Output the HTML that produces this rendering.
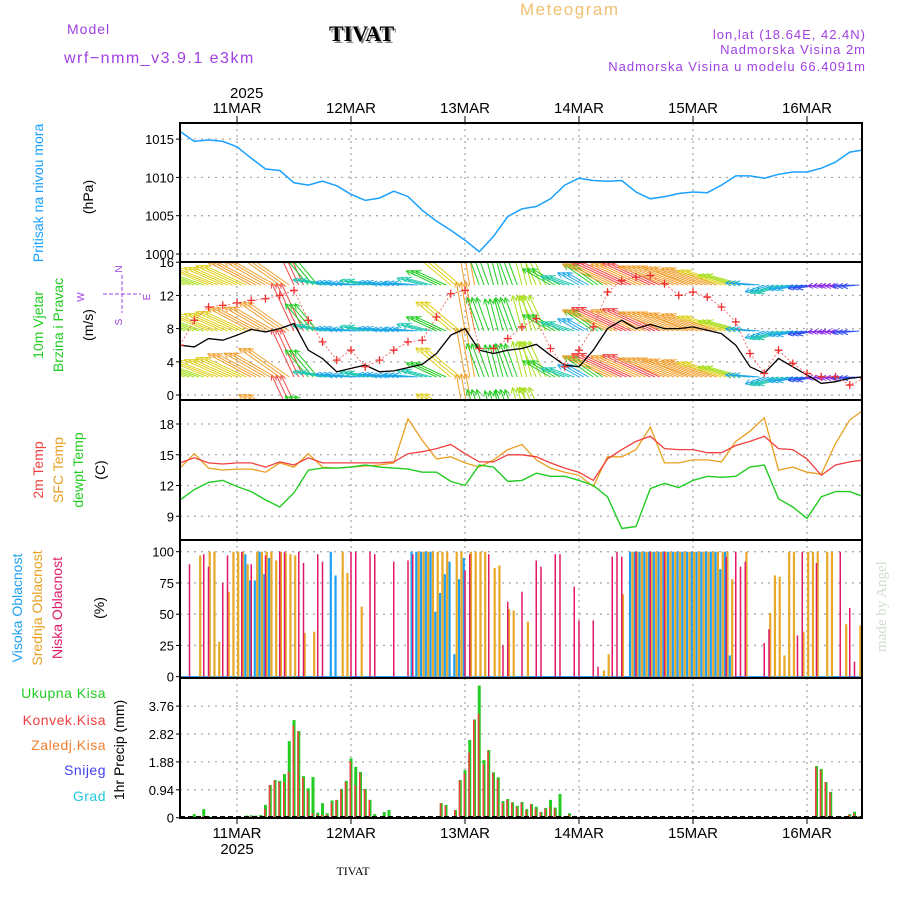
<!DOCTYPE html>
<html><head><meta charset="utf-8"><style>
body{margin:0;background:#fff;}
svg{display:block;font-family:"Liberation Sans",sans-serif;}
</style></head><body>
<svg id="c" width="900" height="900" viewBox="0 0 900 900">
<text x="67" y="34" font-size="14" fill="#a040e0" letter-spacing="1">Model</text>
<text x="64" y="63" font-size="16" fill="#a040e0" letter-spacing="1.5">wrf−nmm_v3.9.1 e3km</text>
<text x="331" y="43" font-size="22" font-weight="bold" font-family="Liberation Serif,serif" fill="#888">TIVAT</text>
<text x="329" y="41" font-size="22" font-weight="bold" font-family="Liberation Serif,serif" fill="#000">TIVAT</text>
<text x="520" y="15" font-size="17" fill="#f0c070" letter-spacing="1.5">Meteogram</text>
<text x="866" y="39" font-size="13" fill="#a040e0" text-anchor="end" letter-spacing="1">lon,lat (18.64E, 42.4N)</text>
<text x="866" y="54" font-size="13" fill="#a040e0" text-anchor="end" letter-spacing="1">Nadmorska Visina 2m</text>
<text x="866" y="71" font-size="13" fill="#a040e0" text-anchor="end" letter-spacing="1">Nadmorska Visina u modelu 66.4091m</text>
<text x="230" y="98" font-size="15" fill="#000">2025</text>
<text x="353" y="875" font-size="12" font-family="Liberation Serif,serif" fill="#000" text-anchor="middle">TIVAT</text>
<text transform="translate(886,652) rotate(-90)" font-size="15" font-family="Liberation Serif,serif" fill="#cfe0cf">made by Angel</text>
<g id="g"></g>
</svg>
<script>
// ---- data (3-hourly from 10MAR 12Z) ----
const dayLabels=["11MAR","12MAR","13MAR","14MAR","15MAR","16MAR"];
const pres=[1016.0,1014.7,1014.9,1014.7,1014.0,1012.5,1011.1,1010.9,1009.3,1009.0,1009.5,1008.9,1007.8,1007.0,1007.3,1008.2,1007.5,1005.7,1004.3,1003.1,1001.8,1000.3,1002.3,1004.9,1005.9,1006.2,1007.2,1009.0,1009.9,1009.6,1009.5,1009.6,1008.1,1007.2,1007.5,1007.9,1008.1,1008.0,1009.0,1010.2,1010.2,1009.9,1010.4,1010.7,1010.7,1011.2,1012.0,1013.3,1013.6];
const spd=[6.0,5.8,6.8,6.6,7.2,7.9,7.6,8.0,8.6,5.4,4.4,2.8,3.2,3.6,2.8,2.9,3.3,3.7,5.0,7.2,8.0,5.4,5.0,5.4,5.6,6.1,4.8,3.6,3.4,5.4,8.0,9.0,8.0,8.5,8.0,8.0,8.2,7.8,7.4,6.0,3.4,2.6,4.4,3.4,2.4,1.4,1.6,2.0,2.2];
const gust=[6.0,9.0,10.6,10.8,11.1,11.4,11.6,12.0,12.6,9.0,6.4,4.2,5.4,3.4,4.2,5.4,6.4,6.6,9.4,12.2,12.6,5.6,5.6,6.8,8.2,9.2,5.6,3.4,5.4,8.2,12.4,13.8,14.2,14.4,13.4,12.0,12.4,11.8,10.6,8.8,5.0,2.6,5.4,3.8,2.6,2.2,2.2,1.2,2.0];
const wdir=[160,160,158,156,155,152,150,145,115,130,170,172,175,170,172,175,175,165,155,140,100,110,105,110,105,115,150,160,150,145,155,155,155,155,158,158,160,160,162,165,175,200,195,190,190,185,185,185,185];
const t2m=[14.2,14.7,14.2,14.1,14.2,14.2,13.8,14.3,14.0,14.7,14.2,14.2,14.2,14.2,14.2,14.3,15.1,15.3,15.6,16.0,15.1,14.3,14.3,15.0,15.0,14.8,14.2,13.7,13.3,12.5,14.6,15.5,16.3,16.8,15.6,15.5,15.5,15.2,15.2,15.9,16.3,16.8,15.6,15.5,14.6,13.0,14.0,14.3,14.5];
const tsfc=[13.7,15.1,13.7,13.5,13.6,13.6,13.3,14.2,13.8,15.1,13.8,13.7,13.8,13.9,14.0,14.2,18.5,16.4,14.6,14.8,14.2,13.8,14.5,15.5,16.0,14.5,13.7,13.3,13.0,11.9,14.8,14.8,15.5,17.7,14.2,14.2,14.5,14.5,14.3,16.3,17.3,18.6,13.5,13.8,13.3,13.1,16.1,18.4,19.4];
const tdew=[10.6,11.6,12.3,12.5,11.9,11.4,10.6,9.9,11.3,13.5,13.7,13.7,13.8,14.0,13.8,13.7,13.6,13.3,13.3,12.4,12.0,14.0,13.8,12.4,12.5,13.2,12.9,12.9,12.5,12.0,10.9,7.8,8.0,11.7,12.2,11.8,12.5,12.9,12.8,12.9,13.8,14.0,10.7,9.9,8.8,10.9,11.4,11.4,10.9];
// clouds (hour index, percent)
const lowH=[2,5,6,9,10,13,15,18,21,22,25,26,29,30,36,37,40,41,45,48,49,60,61,65,68,69,72,75,76,79,80,83,84,87,88,91,92,93,96,99,102,115,117,118,119,123,124,130,131,134,139,141,142];
const lowV=[90,98,88,75,97,100,90,97,100,100,100,91,98,92,100,100,100,98,92,93,98,85,98,98,25,60,68,93,88,98,98,72,45,45,8,96,100,96,100,100,100,96,100,88,92,27,38,33,100,91,100,55,12];
const midH=[4,6,7,8,10,11,12,13,14,16,17,18,19,20,21,22,23,24,26,28,34,35,38,50,51,52,53,54,55,56,58,59,61,62,63,64,66,67,69,70,73,89,90,93,95,96,97,98,99,100,101,102,103,104,105,106,107,108,109,110,111,112,113,114,115,116,119,124,125,126,127,128,129,131,132,133,134,136,137,140,143];
const midV=[97,100,100,28,68,100,100,100,90,100,100,100,100,93,100,99,98,97,35,36,100,83,56,100,100,100,100,100,100,100,100,100,100,100,100,100,87,89,54,53,44,5,18,66,100,100,100,100,100,100,100,100,100,100,100,100,100,100,100,100,100,100,100,100,100,78,100,51,81,80,17,100,100,36,100,100,100,100,100,42,41];
const highH=[14,15,16,17,18,19,32,33,49,50,51,52,53,54,55,56,57,58,59,60,95,96,97,98,99,100,101,102,103,104,105,106,107,108,109,110,111,112,113,114,115,116];
const highV=[98,77,77,100,82,95,100,81,100,100,100,100,100,52,67,82,92,18,78,95,100,100,100,100,100,100,100,100,100,100,100,100,100,100,100,100,100,100,100,86,100,17];
// precipitation (hour index, mm)
const prH=[3,4,5,6,14,15,16,17,18,19,20,21,22,23,24,25,26,27,28,29,30,31,32,33,34,35,36,37,38,39,40,41,43,44,55,56,58,59,60,61,62,63,64,65,66,67,68,69,70,71,72,73,74,75,76,77,78,79,80,81,82,83,134,135,136,137,139,141,142,143];
const prTot=[0.12,0.06,0.29,0.06,0.07,0.08,0.07,0.09,0.43,1.1,1.27,1.24,1.47,2.58,3.29,2.92,1.4,0.99,1.37,0.17,0.49,0.15,0.58,0.6,0.97,1.24,2.0,1.71,1.54,0.97,0.6,0.12,0.19,0.26,0.49,0.43,0.26,1.27,1.6,2.62,3.31,4.45,1.94,2.28,1.53,1.36,0.56,0.63,0.52,0.4,0.53,0.29,0.46,0.37,0.19,0.33,0.6,0.34,0.8,0.06,0.15,0.06,1.74,1.64,1.2,0.87,0.06,0.12,0.2,0.06];
const prConv=[0.02,0.03,0.05,0.02,0.03,0.04,0.03,0.05,0.3,1.1,1.25,1.2,1.2,1.55,3.1,2.9,1.35,0.9,0.15,0.1,0.1,0.1,0.5,0.6,0.95,1.2,1.9,1.1,1.5,0.95,0.6,0.05,0.05,0.05,0.49,0.4,0.26,1.25,1.5,2.2,3.3,3.5,1.8,2.25,1.5,1.3,0.5,0.6,0.5,0.35,0.5,0.25,0.45,0.3,0.19,0.3,0.35,0.3,0.05,0.05,0.1,0.05,1.7,1.6,1.2,0.85,0.04,0.1,0.15,0.05];

// ---- axes ----
const X0=180,X1=862,PPH=4.75;
const xh=h=>X0+PPH*h;
const yP=v=>254-(v-1000)*7.66;
const yW=v=>395-v*8.3;
const yT=v=>424+(18-v)*10.25;
const yC=v=>676.7-v*1.25;
const yR=v=>817.7-v*29.68;
const panels=[{n:"pressure",t:123,b:262},{n:"wind",t:262,b:400},{n:"temperature",t:400,b:540},{n:"cloud",t:540,b:678},{n:"precip",t:678,b:818}];
const NS="http://www.w3.org/2000/svg";
const G=document.getElementById('g');
function mk(tag,at,par){const e=document.createElementNS(NS,tag);for(const k in at)e.setAttribute(k,at[k]);(par||G).appendChild(e);return e;}
const defs=mk('defs',{});
panels.forEach((p,i)=>{const cp=mk('clipPath',{id:'cp'+i},defs);mk('rect',{x:X0,y:p.t,width:X1-X0,height:p.b-p.t},cp);});

function grid(i,ticks,yf,fmt){
  const p=panels[i];
  const gg=mk('g',{});
  
  
  for(let d=0;d<6;d++){const x=xh(12+24*d);const l=mk('line',{x1:x,x2:x,y1:p.t,y2:p.b,stroke:'#aaa','stroke-dasharray':'2,4','stroke-width':1.3},gg);}
  ticks.forEach(v=>{const y=yf(v);
    mk('line',{x1:X0,x2:X1,y1:y,y2:y,stroke:'#aaa','stroke-dasharray':'2,5','stroke-width':1.3},gg);
    mk('line',{x1:X0-4,x2:X0,y1:y,y2:y,stroke:'#000'},gg);
    const t=mk('text',{x:X0-6,y:y+5,'font-size':13,'text-anchor':'end',fill:'#000'},gg);t.textContent=fmt?fmt(v):v;
    
    
  });
}
grid(0,[1000,1005,1010,1015],yP);
grid(1,[0,4,8,12,16],yW);
grid(2,[9,12,15,18],yT);
grid(3,[0,25,50,75,100],yC);
grid(4,[0,0.94,1.88,2.82,3.76],yR,v=>v===0?'0':v.toFixed(2));

// top & bottom date labels
dayLabels.forEach((d,i)=>{const x=xh(12+24*i);
  const t=mk('text',{x:x,y:113,'font-size':15,'text-anchor':'middle',fill:'#000'});t.textContent=d;
  
  
  mk('line',{x1:x,x2:x,y1:116,y2:123,stroke:'#000'});
  const b=mk('text',{x:x,y:838,'font-size':15,'text-anchor':'middle',fill:'#000'});b.textContent=d;
  
  
  mk('line',{x1:x,x2:x,y1:818,y2:824,stroke:'#000'});
});
const yr=mk('text',{x:xh(12),y:854,'font-size':15,'text-anchor':'middle',fill:'#000'});yr.textContent='2025';



function line(arr,yf,color,name,ci,w){
  const pts=arr.map((v,k)=>xh(3*k).toFixed(1)+','+yf(v).toFixed(1)).join(' ');
  const e=mk('polyline',{points:pts,fill:'none',stroke:color,'stroke-width':w||1.3,'clip-path':'url(#cp'+ci+')'});
  
  
  return e;
}
// pressure
line(pres,yP,'#1aa0ff','pressure-line',0,1.5);

// wind arrows
function wcol(s){return s<1.8?'#8a2be2':s<2.6?'#3050f0':s<3.5?'#20a8e8':s<4.5?'#20c8b0':s<5.5?'#22cc22':s<6.5?'#a8e020':s<7.5?'#e0d020':s<8.5?'#f0a030':'#f04848';}
const wg=mk('g',{'clip-path':'url(#cp1)'});


[423,377,331,285].forEach(by=>{
  for(let h=0;h<144;h++){const k=Math.floor(h/3);const s=spd[k],a=wdir[k]*Math.PI/180;
    const L=5.5*s+6,x=xh(h),x2=x+L*Math.cos(a),y2=by-L*Math.sin(a),c=wcol(s);
    mk('line',{x1:x,y1:by,x2:x2,y2:y2,stroke:c,'stroke-width':1},wg);
    [0.45,-0.45].forEach(o=>{mk('line',{x1:x2,y1:y2,x2:x2-6*Math.cos(a+o),y2:y2+6*Math.sin(a+o),stroke:c,'stroke-width':1},wg);});
  }
});
line(spd,yW,'#000','wind-speed-line',1,1.3);
line(gust,yW,'#f05050','wind-gust-line',1,0.8).setAttribute('stroke-dasharray','2,2');
const gg2=mk('g',{'clip-path':'url(#cp1)'});


gust.forEach((v,k)=>{const x=xh(3*k),y=yW(v);
  mk('path',{d:`M${x-4},${y}h8M${x},${y-4}v8`,stroke:'#f03030','stroke-width':1.3},gg2);});

// temperatures
line(tsfc,yT,'#e8a020','sfc-temp-line',2,1.3);
line(t2m,yT,'#f04040','t2m-line',2,1.3);
line(tdew,yT,'#22cc22','dewpoint-line',2,1.4);

// clouds
const cg=mk('g',{'clip-path':'url(#cp3)'});


mk('line',{x1:X0,x2:X1,y1:yC(0),y2:yC(0),stroke:'#30a0f0','stroke-width':1.5},cg);
function cbars(H,V,off,col,w,nm){H.forEach((h,i)=>{const x=xh(h)+off;
  const r=mk('rect',{x:x-w/2,y:yC(V[i]),width:w,height:yC(0)-yC(V[i]),fill:col},cg);
  
  });}
cbars(highH,highV,-1.2,'#20a0f0',2.2,'high-cloud-bar');
cbars(midH,midV,1.2,'#e8a828',2.2,'mid-cloud-bar');
cbars(lowH,lowV,0,'#e0186a',1.5,'low-cloud-bar');

// precipitation
const pg=mk('g',{'clip-path':'url(#cp4)'});


prH.forEach((h,i)=>{const x=xh(h);
  const g1=mk('rect',{x:x-1.5,y:yR(prTot[i]),width:3,height:yR(0)-yR(prTot[i]),fill:'#22cc22'},pg);
  
  
  const r1=mk('rect',{x:x-1.5,y:yR(prConv[i]),width:1.6,height:yR(0)-yR(prConv[i]),fill:'#f04040'},pg);
  
  
});
mk('line',{x1:X0,x2:X1,y1:yR(0)-1,y2:yR(0)-1,stroke:'#000','stroke-width':1.5,'stroke-dasharray':'5,3'},pg);

// frames
panels.forEach((p,i)=>{const f=mk('rect',{x:X0,y:p.t,width:X1-X0,height:p.b-p.t,fill:'none',stroke:'#000','stroke-width':2});
  
  });

// left labels
function vt(x,y,txt,col,nm,fs){const t=mk('text',{transform:`translate(${x},${y}) rotate(-90)`,'font-size':fs||14,'text-anchor':'middle',fill:col});t.textContent=txt;
  
  }
vt(43,193,'Pritisak na nivou mora','#1aa0ff','pressure-axis-title');
vt(93,197,'(hPa)','#000','pressure-unit');
vt(43,325,'10m Vjetar','#22cc22','wind-axis-title');
vt(63,325,'Brzina i Pravac','#22cc22','wind-axis-subtitle');
vt(93,325,'(m/s)','#000','wind-unit');
vt(43,470,'2m Temp','#f04040','t2m-axis-title');
vt(63,470,'SFC Temp','#e8a020','sfc-axis-title');
vt(83,470,'dewpt Temp','#22cc22','dewpt-axis-title');
vt(105,470,'(C)','#000','temp-unit');
vt(22,608,'Visoka Oblacnost','#20a0f0','high-cloud-title');
vt(42,608,'Srednja Oblacnost','#e8a020','mid-cloud-title');
vt(62,608,'Niska Oblacnost','#e0186a','low-cloud-title');
vt(104,608,'(%)','#000','cloud-unit');
vt(124,750,'1hr Precip (mm)','#000','precip-axis-title');
// compass
const cmp=mk('g',{fill:'#a040e0','font-size':10});


[['N',122,269],['S',122,322],['W',84,297],['E',150,297]].forEach(a=>{const t=mk('text',{x:a[1],y:a[2],'text-anchor':'middle',transform:`rotate(-90 ${a[1]} ${a[2]})`},cmp);t.textContent=a[0];});
mk('path',{d:'M103,294h38M122,275v38',stroke:'#a040e0','stroke-dasharray':'4,2',fill:'none'},cmp);
// precip legend
[['Ukupna Kisa','#22cc22',693],['Konvek.Kisa','#f04040',720],['Zaledj.Kisa','#f08030',745],['Snijeg','#4040f0',770],['Grad','#20c8d8',796]].forEach(e=>{
  const t=mk('text',{x:106,y:e[2]+5,'font-size':14,'text-anchor':'end',fill:e[1],'letter-spacing':'0.5'});t.textContent=e[0];
  
  
});
</script>
</body></html>
